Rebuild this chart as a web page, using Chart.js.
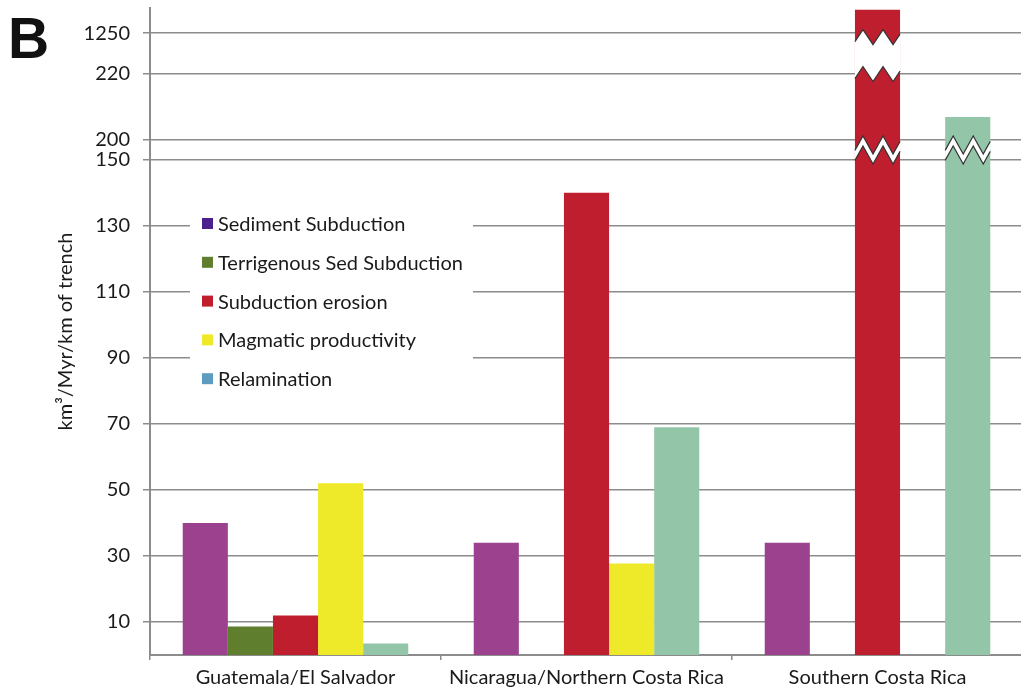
<!DOCTYPE html>
<html>
<head>
<meta charset="utf-8">
<script src="https://cdn.jsdelivr.net/npm/chart.js@4.4.1/dist/chart.umd.min.js"></script>
<style>
  html, body { margin: 0; padding: 0; background: #fff; overflow: hidden; }
  #wrap { position: relative; width: 1025px; height: 692px; }
</style>
</head>
<body>
<div id="wrap"><canvas id="chart"></canvas></div>
<script>
const regions = ['Guatemala/El Salvador', 'Nicaragua/Northern Costa Rica', 'Southern Costa Rica'];
const seriesNames = ['Sediment Subduction', 'Terrigenous Sed Subduction', 'Subduction erosion', 'Magmatic productivity', 'Relamination'];

// km3/Myr/km of trench
const sedimentSubduction = [40, 34, 34];
const terrigenousSedSubduction = [8.6, null, null];
const subductionErosion = [12, 140, 1850];
const magmaticProductivity = [52, 27.7, null];
const relamination = [3.5, 69, 207];

const yTickValues = [10, 30, 50, 70, 90, 110, 130, 150, 200, 220, 1250];

const barColors = ['#9c418e', '#5f7f2f', '#be1e2d', '#eeea2a', '#93c5a8'];
const legendColors = ['#4b1f8c', '#5f7f2f', '#c01e2d', '#eeea2a', '#5d9cc0'];

const FONT = 'Lato, "Open Sans", sans-serif';
const TEXT = '#1a1a1a';
const GRID = '#8c8c8c';

// broken axis: 0-150 linear, gap, 200-220 linear, gap, 220+ compressed
function toAxis(v) {
    if (v <= 150) return v;
    if (v <= 220) return 156 + (v - 200);
    return 176.2 + (v - 220) * 0.01184;
}

const allSeries = [sedimentSubduction, terrigenousSedSubduction, subductionErosion, magmaticProductivity, relamination];

const datasets = allSeries.map((vals, i) => ({
    label: seriesNames[i],
    data: vals.map(v => v == null ? null : toAxis(v)),
    rawValues: vals,
    backgroundColor: barColors[i],
    borderWidth: 0,
    categoryPercentage: 0.775,
    barPercentage: 1.0,
}));

function drawBand(ctx, left, right, yTop, yBot, amp) {
    const w = right - left;
    const period = w * 20 / 45;
    const peak0 = w * 8 / 45;
    const h = o => {
        const ph = (((o - peak0) % period) + period) % period;
        return ph <= period / 2 ? -1 + ph / (period / 4) : 3 - ph / (period / 4);
    };
    const offs = [0];
    for (let o = peak0 - period; o < w; o += period / 2) {
        if (o > 0) offs.push(o);
    }
    offs.push(w);
    const top = offs.map(o => [left + o, yTop + h(o) * amp / 2]);
    const bot = offs.map(o => [left + o, yBot + h(o) * amp / 2]);

    ctx.save();
    ctx.beginPath();
    top.forEach(([x, y], k) => k ? ctx.lineTo(x, y) : ctx.moveTo(x, y));
    bot.slice().reverse().forEach(([x, y]) => ctx.lineTo(x, y));
    ctx.closePath();
    ctx.fillStyle = '#fff';
    ctx.fill();
    ctx.strokeStyle = '#333';
    ctx.lineWidth = 1.2;
    [top, bot].forEach(line => {
        ctx.beginPath();
        line.forEach(([x, y], k) => k ? ctx.lineTo(x, y) : ctx.moveTo(x, y));
        ctx.stroke();
    });
    ctx.restore();
}

const brokenAxisPlugin = {
    id: 'brokenAxis',
    afterDatasetsDraw(chart) {
        const y = chart.scales.y;
        const ctx = chart.ctx;
        chart.data.datasets.forEach((ds, di) => {
            const meta = chart.getDatasetMeta(di);
            ds.rawValues.forEach((v, i) => {
                if (v == null) return;
                const bar = meta.data[i];
                const left = bar.x - bar.width / 2;
                const right = bar.x + bar.width / 2;
                if (v > 200) {
                    const mid = (y.getPixelForValue(toAxis(150)) + y.getPixelForValue(toAxis(200))) / 2;
                    drawBand(ctx, left, right, mid - 5, mid + 5, 18);
                }
                if (v > 1250) {
                    const top = y.getPixelForValue(toAxis(1250)) + 4;
                    const bottom = y.getPixelForValue(toAxis(220));
                    drawBand(ctx, left, right, top, bottom, 15);
                }
            });
        });
    }
};

const legendBoxPlugin = {
    id: 'legendBox',
    afterDraw(chart) {
        const ctx = chart.ctx;
        const a = chart.chartArea;
        const x0 = a.left + 40, y0 = 200;
        ctx.save();
        ctx.fillStyle = '#fff';
        ctx.fillRect(x0, y0, 283, 200);
        ctx.font = '20px ' + FONT;
        ctx.textBaseline = 'middle';
        seriesNames.forEach((name, i) => {
            const cy = 223.5 + i * 38.8;
            ctx.fillStyle = legendColors[i];
            ctx.fillRect(a.left + 52, cy - 5.5, 11, 11);
            ctx.fillStyle = TEXT;
            ctx.fillText(name, a.left + 68, cy + 1);
        });
        // panel letter
        ctx.font = 'bold 57px "Liberation Sans", Arial, sans-serif';
        ctx.textBaseline = 'alphabetic';
        ctx.fillStyle = '#111';
        ctx.fillText('B', 8, 58);
        ctx.restore();
    }
};

new Chart(document.getElementById('chart'), {
    type: 'bar',
    data: { labels: regions, datasets },
    plugins: [brokenAxisPlugin, legendBoxPlugin],
    options: {
        responsive: true,
        maintainAspectRatio: false,
        animation: false,
        layout: { padding: { top: 8, right: 2, left: 0, bottom: 0 } },
        plugins: {
            legend: { display: false },
            tooltip: { enabled: false },
        },
        scales: {
            x: {
                grid: { drawOnChartArea: false, drawTicks: true, tickLength: 5, color: GRID, lineWidth: 1.5, offset: true },
                border: { color: GRID, width: 2 },
                ticks: { color: TEXT, font: { family: FONT, size: 20 }, padding: 6, maxRotation: 0 },
                afterFit: s => { s.height = 37; },
            },
            y: {
                min: 0,
                max: 196,
                grid: { color: GRID, lineWidth: 1.5, tickLength: 7 },
                border: { color: GRID, width: 2 },
                ticks: {
                    color: TEXT,
                    font: { family: FONT, size: 20 },
                    padding: 13,
                    callback: (val, idx) => String(yTickValues[idx]),
                },
                afterBuildTicks: s => { s.ticks = yTickValues.map(v => ({ value: toAxis(v) })); },
                afterFit: s => { s.width = 150; s.paddingTop = 0; s.paddingBottom = 0; },
                title: {
                    display: true,
                    text: 'km\u00B3/Myr/km of trench',
                    color: TEXT,
                    font: { family: FONT, size: 20 },
                    padding: { top: 54, bottom: 0 },
                },
            },
        },
    },
});
</script>
</body>
</html>
